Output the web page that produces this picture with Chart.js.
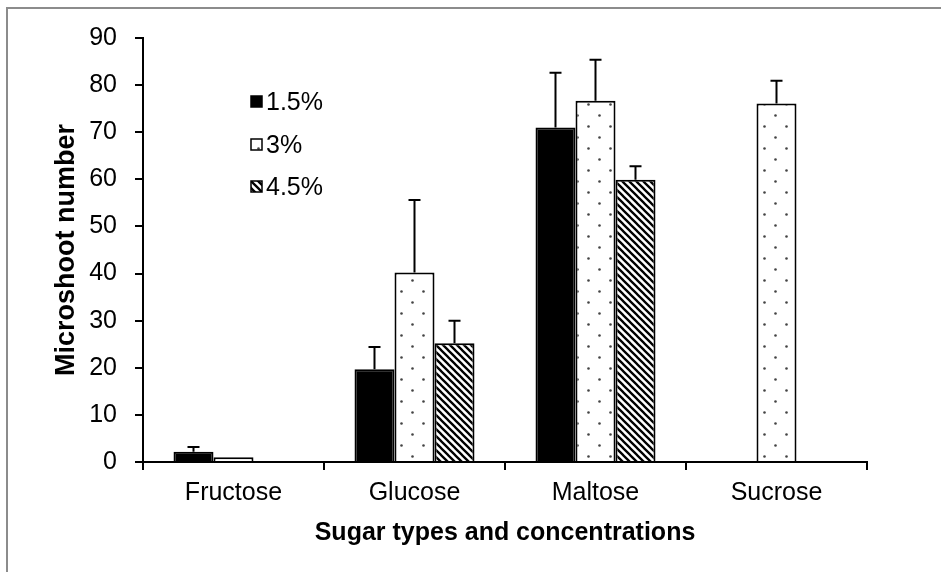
<!DOCTYPE html>
<html>
<head>
<meta charset="utf-8">
<script src="https://cdn.jsdelivr.net/npm/chart.js@4"></script>
<style>
  html, body { margin: 0; padding: 0; background: #fff; }
  #wrap { width: 941px; height: 572px; }
</style>
</head>
<body>
<div id="wrap"><canvas id="ourChart" width="941" height="572"></canvas></div>
<script>
const sugarNames = ['Fructose', 'Glucose', 'Maltose', 'Sucrose'];
const seriesNames = ['1.5%', '3%', '4.5%'];

const low = [2.2, 19.7, 71.0, 0];
const mid = [1.0, 40.2, 76.7, 76.1];
const high = [0, 25.2, 59.9, 0];

const lowErr = [1.0, 4.7, 11.6, 0];
const midErr = [0, 15.4, 8.7, 4.8];
const highErr = [0, 4.8, 2.9, 0];

const yTicks = [0, 10, 20, 30, 40, 50, 60, 70, 80, 90];

const font = "'Liberation Sans', Arial, sans-serif";

// fill patterns
function dotPattern() {
    const c = document.createElement('canvas');
    c.width = 22; c.height = 22;
    const g = c.getContext('2d');
    g.fillStyle = '#fff';
    g.fillRect(0, 0, 22, 22);
    g.fillStyle = '#444';
    [[5.5, 5.5], [16.5, 16.5]].forEach(p => {
        g.beginPath();
        g.arc(p[0], p[1], 1.3, 0, Math.PI * 2);
        g.fill();
    });
    return g.createPattern(c, 'repeat');
}

function hatchPattern() {
    const s = 7;
    const c = document.createElement('canvas');
    c.width = s; c.height = s;
    const g = c.getContext('2d');
    g.fillStyle = '#fff';
    g.fillRect(0, 0, s, s);
    g.strokeStyle = '#000';
    g.lineWidth = 2.3;
    g.beginPath();
    g.moveTo(-1, -1); g.lineTo(s + 1, s + 1);
    g.moveTo(-1, s - 1); g.lineTo(1, s + 1);
    g.moveTo(s - 1, -1); g.lineTo(s + 1, 1);
    g.stroke();
    return g.createPattern(c, 'repeat');
}

const dots = dotPattern();
const hatch = hatchPattern();
const errors = [lowErr, midErr, highErr];

const frameLines = {
    id: 'frameLines',
    beforeDraw(chart) {
        const ctx = chart.ctx;
        ctx.save();
        ctx.strokeStyle = '#8c8c8c';
        ctx.lineWidth = 2;
        ctx.beginPath();
        ctx.moveTo(7, 572);
        ctx.lineTo(7, 8);
        ctx.lineTo(941, 8);
        ctx.stroke();
        ctx.restore();
    }
};

const errorBars = {
    id: 'errorBars',
    afterDatasetsDraw(chart) {
        const ctx = chart.ctx;
        const y = chart.scales.y;
        ctx.save();
        ctx.strokeStyle = '#000';
        ctx.lineWidth = 2;
        chart.data.datasets.forEach((ds, i) => {
            const meta = chart.getDatasetMeta(i);
            meta.data.forEach((bar, j) => {
                const e = errors[i][j];
                if (!e) return;
                const top = y.getPixelForValue(ds.data[j] + e);
                ctx.beginPath();
                ctx.moveTo(bar.x, bar.y);
                ctx.lineTo(bar.x, top);
                ctx.moveTo(bar.x - 6, top);
                ctx.lineTo(bar.x + 6, top);
                ctx.stroke();
            });
        });
        ctx.restore();
    }
};

const insideLegend = {
    id: 'insideLegend',
    afterDraw(chart) {
        const ctx = chart.ctx;
        ctx.save();
        ctx.font = '25px ' + font;
        ctx.textBaseline = 'middle';
        const rows = [102, 145, 187];
        chart.data.datasets.forEach((ds, i) => {
            const cy = rows[i];
            ctx.fillStyle = ds.backgroundColor;
            ctx.fillRect(251, cy - 6, 11, 11);
            ctx.strokeStyle = '#000';
            ctx.lineWidth = 1.5;
            ctx.strokeRect(251, cy - 6, 11, 11);
            ctx.fillStyle = '#000';
            ctx.fillText(ds.label, 266, cy + 1);
        });
        ctx.restore();
    }
};

const ourCanvas = document.getElementById('ourChart');

new Chart(ourCanvas, {
    type: 'bar',
    data: {
        labels: sugarNames,
        datasets: [
            {
                label: seriesNames[0],
                data: low,
                backgroundColor: '#000',
                borderColor: '#000',
                borderWidth: 2,
            },
            {
                label: seriesNames[1],
                data: mid,
                backgroundColor: dots,
                borderColor: '#000',
                borderWidth: 2,
            },
            {
                label: seriesNames[2],
                data: high,
                backgroundColor: hatch,
                borderColor: '#000',
                borderWidth: 2,
            },
        ]
    },
    options: {
        responsive: false,
        animation: false,
        layout: {
            padding: { left: 0, right: 74, top: 38, bottom: 0 }
        },
        datasets: {
            bar: {
                categoryPercentage: 0.663,
                barPercentage: 1,
                borderSkipped: 'bottom',
            }
        },
        plugins: {
            legend: { display: false },
            tooltip: { enabled: false },
        },
        scales: {
            x: {
                grid: {
                    drawOnChartArea: false,
                    color: '#000',
                    lineWidth: 2,
                    tickLength: 8,
                    offset: true,
                },
                border: { color: '#000', width: 2 },
                ticks: {
                    color: '#000',
                    padding: 8,
                    font: { family: font, size: 25 },
                },
                title: {
                    display: true,
                    text: 'Sugar types and concentrations',
                    color: '#000',
                    font: { family: font, size: 25, weight: 'bold' },
                    padding: { top: 0, bottom: 24 },
                },
                afterFit(scale) { scale.height = 110; }
            },
            y: {
                min: 0,
                max: 90,
                afterBuildTicks(scale) {
                    scale.ticks = yTicks.map(v => ({ value: v }));
                },
                grid: {
                    drawOnChartArea: false,
                    color: '#000',
                    lineWidth: 2,
                    tickLength: 8,
                },
                border: { color: '#000', width: 2 },
                ticks: {
                    color: '#000',
                    padding: 18,
                    font: { family: font, size: 25 },
                },
                title: {
                    display: true,
                    text: 'Microshoot number',
                    color: '#000',
                    font: { family: font, size: 27, weight: 'bold' },
                    padding: { top: 50, bottom: 0 },
                },
                afterFit(scale) { scale.width = 143; }
            }
        }
    },
    plugins: [frameLines, errorBars, insideLegend]
});
</script>
</body>
</html>
